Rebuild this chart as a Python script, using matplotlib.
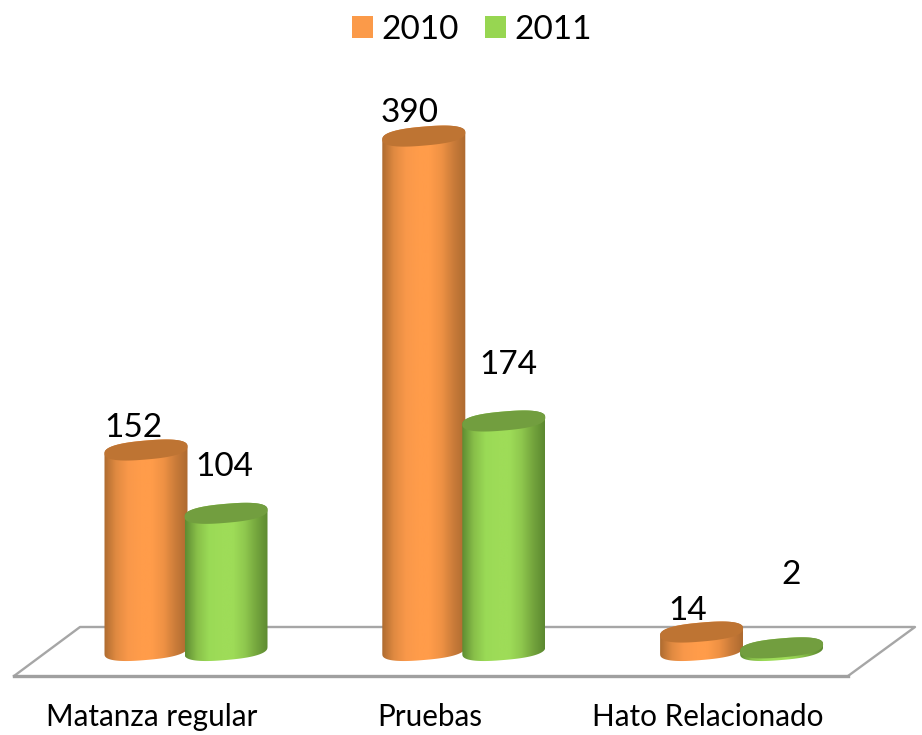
import numpy as np
import matplotlib
matplotlib.use('Agg')
import matplotlib.pyplot as plt
from matplotlib.colors import LinearSegmentedColormap
from matplotlib.patches import Patch, Polygon

categories = ["Matanza regular", "Pruebas", "Hato Relacionado"]
series_names = ["2010", "2011"]
values_2010 = [152, 390, 14]
values_2011 = [104, 174, 2]

# pixel scale of the value axis and of the category axis
PX_PER_UNIT = 1.319
PX_PER_CAT = 277.8
BASE_PX = 650.5
FLOOR_PX = 677
BAR_OFFSET = 0.144
HALF_WIDTH = 41.5 / PX_PER_CAT
CAP_B = 9.5 / PX_PER_UNIT
CAP_TILT = 3.5 / PX_PER_UNIT
CAP_ROUND = 0.8

ORANGE_STOPS = ["#AE6B30", "#E08A41", "#F9984A", "#FF9C4A", "#FF9C4A", "#EE9144", "#C97B39", "#AD6A30"]
GREEN_STOPS = ["#5E8C32", "#88BF49", "#9ADA56", "#9EDC58", "#9EDC58", "#8FC84E", "#74A53D", "#5C8830"]
ORANGE_CAP = "#BE7433"
GREEN_CAP = "#729E3F"
ORANGE_KEY = "#FB9A49"
GREEN_KEY = "#97D651"

# label offsets from the bar top, in pixels
OFFSETS_2010 = [(-13, 22), (-14, 23), (-14, 21)]
OFFSETS_2011 = [(-2, 46), (4.5, 56), (9.5, 73)]


def ellipse_points(cx, cy, t):
    # slightly squared ellipse, the caps in the chart are blunt at the sides
    c = np.sign(np.cos(t)) * np.abs(np.cos(t)) ** CAP_ROUND
    s = np.sign(np.sin(t)) * np.abs(np.sin(t)) ** CAP_ROUND
    x = cx + HALF_WIDTH * c
    y = cy + CAP_B * s + CAP_TILT * c
    return np.column_stack([x, y])


def draw_cylinder(ax, cx, value, cmap, cap_color, zorder):
    lower = ellipse_points(cx, 0, np.linspace(np.pi, 2 * np.pi, 40))
    upper = ellipse_points(cx, value, np.linspace(0, np.pi, 40))
    outline = Polygon(np.vstack([lower, upper]), closed=True, transform=ax.transData,
                      facecolor="none", edgecolor="none")
    ax.add_patch(outline)
    grad = np.linspace(0, 1, 256).reshape(1, -1)
    im = ax.imshow(grad, cmap=cmap, aspect="auto", interpolation="bilinear",
                   extent=[cx - HALF_WIDTH, cx + HALF_WIDTH, -30, value + 30], zorder=zorder)
    im.set_clip_path(outline)
    cap = ellipse_points(cx, value, np.linspace(0, 2 * np.pi, 80))
    ax.add_patch(Polygon(cap, closed=True, facecolor=cap_color, edgecolor="none", zorder=zorder + 0.1))


def draw_floor(ax):
    to_x = lambda px: (px - 186) / PX_PER_CAT
    to_y = lambda px: (BASE_PX - px) / PX_PER_UNIT
    xs = [to_x(14), to_x(80), to_x(915), to_x(848)]
    ys = [to_y(FLOOR_PX - 1), to_y(627), to_y(627), to_y(FLOOR_PX - 1)]
    ax.plot(xs, ys, color="#A6A6A6", lw=1.7, zorder=1, clip_on=False)
    ax.plot([xs[0], xs[3]], [ys[0], ys[3]], color="#A0A0A0", lw=2.4, zorder=1, clip_on=False)


def main():
    plt.rcParams['font.family'] = ['Lato', 'DejaVu Sans']
    fig = plt.figure(figsize=(9.22, 7.35), dpi=100)
    ax = fig.add_axes([0, (735 - FLOOR_PX) / 735, 1, FLOOR_PX / 735])

    orange = LinearSegmentedColormap.from_list("orange", ORANGE_STOPS)
    green = LinearSegmentedColormap.from_list("green", GREEN_STOPS)

    draw_floor(ax)
    for i in range(len(categories)):
        draw_cylinder(ax, i - BAR_OFFSET, values_2010[i], orange, ORANGE_CAP, 2 + i)
        draw_cylinder(ax, i + BAR_OFFSET, values_2011[i], green, GREEN_CAP, 2.5 + i)
        ax.annotate(str(values_2010[i]), (i - BAR_OFFSET, values_2010[i]),
                    xytext=OFFSETS_2010[i], textcoords="offset pixels",
                    ha="center", va="center", fontsize=24, zorder=10)
        ax.annotate(str(values_2011[i]), (i + BAR_OFFSET, values_2011[i]),
                    xytext=OFFSETS_2011[i], textcoords="offset pixels",
                    ha="center", va="center", fontsize=24, zorder=10)

    ax.set_xlim(-186 / PX_PER_CAT, (922 - 186) / PX_PER_CAT)
    ax.set_ylim((BASE_PX - FLOOR_PX) / PX_PER_UNIT, BASE_PX / PX_PER_UNIT)
    ax.patch.set_visible(False)
    for spine in ax.spines.values():
        spine.set_visible(False)
    ax.set_yticks([])
    ax.set_xticks(np.arange(len(categories)) - 34 / PX_PER_CAT)
    ax.set_xticklabels(categories, fontsize=21.3)
    ax.tick_params(axis="x", length=0, pad=18.5)

    handles = [Patch(facecolor=ORANGE_KEY, label=series_names[0]),
               Patch(facecolor=GREEN_KEY, label=series_names[1])]
    fig.legend(handles=handles, ncol=2, frameon=False, fontsize=24,
               loc="upper center", bbox_to_anchor=(0.5118, 0.998),
               handlelength=0.63, handleheight=0.63, handletextpad=0.24,
               columnspacing=0.80, borderaxespad=0)

    fig.savefig("out.png", dpi=100)


if __name__ == "__main__":
    main()
